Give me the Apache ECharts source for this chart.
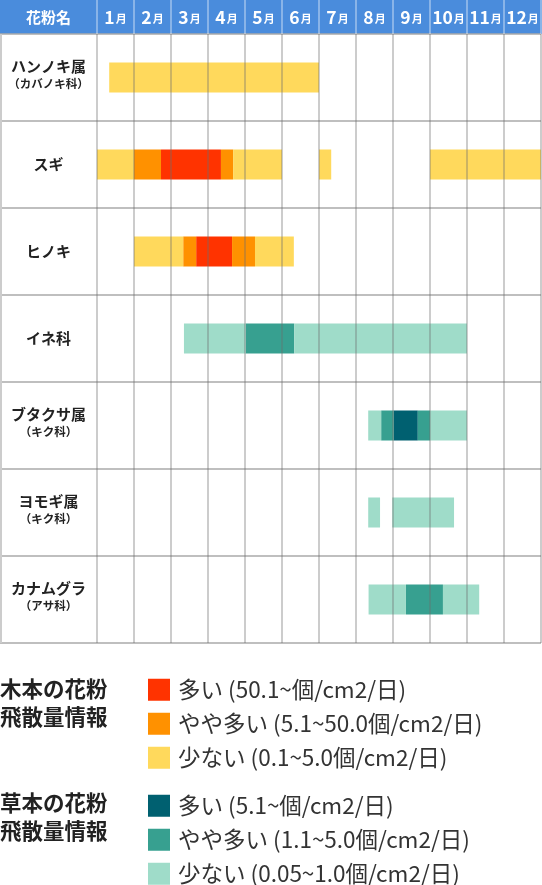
<!DOCTYPE html>
<html><head><meta charset="utf-8">
<script src="https://cdn.jsdelivr.net/npm/echarts@6/dist/echarts.min.js"></script>
<style>html,body{margin:0;padding:0;background:#fff}#c{width:542px;height:885px}</style>
</head><body><div id="c"></div>
<script>
// ---- data ----
const plants = ['ハンノキ属','スギ','ヒノキ','イネ科','ブタクサ属','ヨモギ属','カナムグラ'];
const families = ['（カバノキ科）','','','','（キク科）','（キク科）','（アサ科）'];
const months = ['1月','2月','3月','4月','5月','6月','7月','8月','9月','10月','11月','12月'];

const treeNames = ['多い (50.1~個/cm2/日)','やや多い (5.1~50.0個/cm2/日)','少ない (0.1~5.0個/cm2/日)'];
const herbNames = ['多い (5.1~個/cm2/日)','やや多い (1.1~5.0個/cm2/日)','少ない (0.05~1.0個/cm2/日)'];

// [plant index, start month (0 = Jan 1), end month]
const treeHigh = [[1,1.73,3.35],[2,2.68,3.65]];
const treeMid  = [[1,1.0,1.73],[1,3.35,3.68],[2,2.33,2.68],[2,3.65,4.27]];
const treeLow  = [[0,0.33,6.0],[1,0.0,1.0],[1,3.68,5.0],[1,6.0,6.33],[1,9.0,12.0],[2,1.0,2.33],[2,4.27,5.32]];
const herbHigh = [[4,8.02,8.67]];
const herbMid  = [[3,4.02,5.33],[4,7.68,8.02],[4,8.67,9.0],[6,8.35,9.35]];
const herbLow  = [[3,2.35,4.02],[3,5.33,10.0],[4,7.33,7.68],[4,9.0,10.0],[5,7.33,7.65],[5,7.98,9.65],[6,7.34,8.35],[6,9.35,10.33]];

// ---- chart ----
const FONT = '"Noto Sans CJK JP","Noto Sans",sans-serif';
const chart = echarts.init(document.getElementById('c'));

function bars(name, color, data){
  return {
    type:'custom', name, data, xAxisIndex:0, yAxisIndex:0,
    encode:{x:[1,2], y:0},
    itemStyle:{color},
    renderItem(params, api){
      const r = api.value(0);
      const p0 = api.coord([api.value(1), r]);
      const p1 = api.coord([api.value(2), r]);
      const h = api.size([0,1])[1] * 0.345;
      return {type:'rect', shape:{x:p0[0], y:p0[1]-h/2, width:p1[0]-p0[0], height:h},
              style:{fill: api.visual('color')}};
    }
  };
}

const rich = {
  m:{fontSize:15, fontWeight:'bold', color:'#222', fontFamily:FONT, lineHeight:12},
  s:{fontSize:11.5, fontWeight:'bold', color:'#222', fontFamily:FONT, lineHeight:22},
  m0:{fontSize:15, fontWeight:'bold', color:'#222', fontFamily:FONT, lineHeight:18}
};

const legendBase = {orient:'vertical', left:148, itemWidth:22, itemHeight:22, itemGap:11.5,
  padding:0, height:100, icon:'rect', selectedMode:false,
  textStyle:{fontSize:22.5, color:'#333', fontFamily:FONT, padding:[0,0,0,3]}};

chart.setOption({
  animation:false,
  grid:{left:97, right:1, top:34, height:609, containLabel:false},
  xAxis:[
    {type:'value', min:0, max:12, interval:1, position:'bottom', z:5,
     axisLabel:{show:false}, axisTick:{show:false}, axisLine:{show:false},
     splitLine:{show:true, lineStyle:{color:'rgba(110,110,110,0.35)', width:2}}},
    {type:'category', data:months, position:'top', boundaryGap:true, z:6,
     axisLine:{show:false},
     axisTick:{show:true, length:34, lineStyle:{color:'rgba(255,255,255,0.35)', width:2}},
     axisLabel:{margin:17, verticalAlign:'middle', interval:0,
       formatter:v=>'{n|'+v.replace('月','')+'}{k|月}',
       rich:{n:{fontSize:17.5, fontWeight:'bold', color:'#fff', fontFamily:FONT},
             k:{fontSize:11, fontWeight:'bold', color:'#fff', fontFamily:FONT, padding:[3,0,0,1]}}},
     splitLine:{show:false}}
  ],
  yAxis:{type:'category', data:plants, inverse:true, boundaryGap:true,
    axisLine:{show:false},
    axisTick:{show:true, length:97, lineStyle:{color:'#aaa', width:1.5}},
    splitLine:{show:true, lineStyle:{color:'#aaa', width:1.5}},
    axisLabel:{margin:48.5, align:'center', verticalAlign:'middle', interval:0,
      formatter:(v, i)=> families[i] ? '{m|'+v+'}\n{s|'+families[i]+'}' : '{m0|'+v+'}',
      rich}
  },
  legend:[
    Object.assign({}, legendBase, {data:treeNames, top:678.5}),
    Object.assign({}, legendBase, {data:herbNames, top:794.5})
  ],
  graphic:[
    {type:'rect', z:-1, shape:{x:0, y:0, width:542, height:34}, style:{fill:'#4a8cdc'}},
    {type:'line', z:1, shape:{x1:1, y1:34, x2:1, y2:643}, style:{stroke:'#ccc', lineWidth:2}},
    {type:'text', z:10, x:48.5, y:17, style:{text:'花粉名', fill:'#fff', font:'bold 15px '+FONT, align:'center', verticalAlign:'middle'}},
    {type:'text', z:10, x:0, y:675, style:{text:'木本の花粉\n飛散量情報', fill:'#222', font:'bold 21.5px '+FONT, lineHeight:28, verticalAlign:'top'}},
    {type:'text', z:10, x:0, y:789, style:{text:'草本の花粉\n飛散量情報', fill:'#222', font:'bold 21.5px '+FONT, lineHeight:28, verticalAlign:'top'}}
  ],
  series:[
    bars(treeNames[0], '#ff3300', treeHigh),
    bars(treeNames[1], '#ff9100', treeMid),
    bars(treeNames[2], '#ffd95c', treeLow),
    bars(herbNames[0], '#006070', herbHigh),
    bars(herbNames[1], '#37a090', herbMid),
    bars(herbNames[2], '#9fdcc9', herbLow)
  ]
});
</script></body></html>
